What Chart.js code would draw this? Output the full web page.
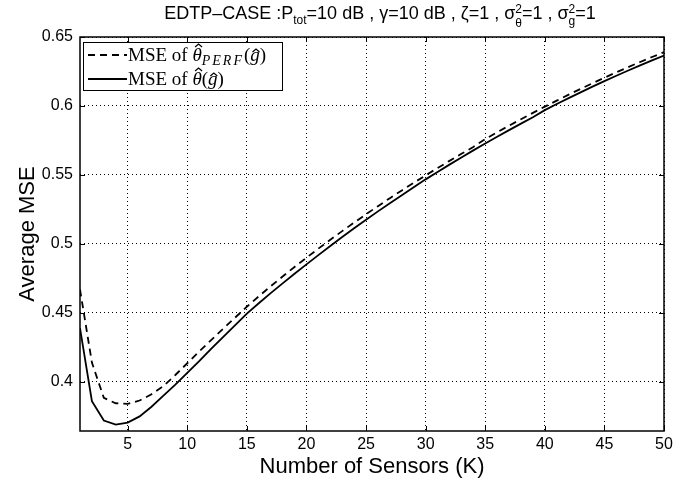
<!DOCTYPE html>
<html>
<head>
<meta charset="utf-8">
<script src="https://cdn.jsdelivr.net/npm/chart.js@4.4.1/dist/chart.umd.min.js"></script>
<style>
  html, body { margin: 0; padding: 0; background: #fff; }
</style>
</head>
<body>
<canvas id="myChart" width="688" height="486"></canvas>
<script>
"use strict";

// number of sensors K
const sensors = [1, 2, 3, 4, 5, 6, 7, 8, 9, 10,
    11, 12, 13, 14, 15, 16, 17, 18, 19, 20,
    21, 22, 23, 24, 25, 26, 27, 28, 29, 30,
    31, 32, 33, 34, 35, 36, 37, 38, 39, 40,
    41, 42, 43, 44, 45, 46, 47, 48, 49, 50];

// MSE of theta_PERF(g) (dashed)
const msePerf = [0.467, 0.414, 0.3884, 0.3845, 0.384, 0.3865, 0.391, 0.397, 0.405, 0.4135,
    0.422, 0.4303, 0.4385, 0.4465, 0.4545, 0.462, 0.4693, 0.4764, 0.4833, 0.49,
    0.4966, 0.503, 0.5093, 0.5155, 0.5215, 0.5274, 0.5332, 0.5388, 0.5443, 0.5497,
    0.555, 0.5602, 0.5653, 0.5703, 0.576, 0.581, 0.5857, 0.5904, 0.595, 0.5995,
    0.6039, 0.6082, 0.6124, 0.6165, 0.6205, 0.6244, 0.6282, 0.6319, 0.6355, 0.639];

// MSE of theta(g) (solid)
const mseEst = [0.439, 0.386, 0.372, 0.369, 0.3705, 0.375, 0.382, 0.39, 0.398, 0.4065,
    0.415, 0.424, 0.4325, 0.441, 0.4495, 0.457, 0.4643, 0.4714, 0.4784, 0.4852,
    0.4919, 0.4985, 0.505, 0.5113, 0.5175, 0.5236, 0.5295, 0.5353, 0.541, 0.5468,
    0.5522, 0.5575, 0.5627, 0.5678, 0.5728, 0.5777, 0.5825, 0.5872, 0.5918, 0.597,
    0.6014, 0.6057, 0.6099, 0.614, 0.618, 0.6219, 0.6257, 0.6294, 0.633, 0.6365];

const xTicks = [5, 10, 15, 20, 25, 30, 35, 40, 45, 50];
const yTicks = [0.4, 0.45, 0.5, 0.55, 0.6, 0.65];

const SANS = "'Liberation Sans', Arial, sans-serif";
const SERIF = "'Liberation Serif', 'Times New Roman', serif";

// draws a run of text pieces, some of them sub/superscripts or with a hat
function drawRich(ctx, parts, x, y) {
    let cx = x;
    for (const p of parts) {
        ctx.font = p.font;
        ctx.letterSpacing = p.spacing || "0px";
        if (p.stack) {
            const w1 = ctx.measureText(p.up).width;
            const w2 = ctx.measureText(p.down).width;
            ctx.fillText(p.up, cx, y + p.upDy);
            ctx.fillText(p.down, cx, y + p.downDy);
            cx += Math.max(w1, w2);
        } else {
            const w = ctx.measureText(p.t).width;
            ctx.fillText(p.t, cx, y + (p.dy || 0));
            if (p.hat) {
                // little circumflex drawn as a path
                const hx = cx + w / 2 + p.hat.dx;
                const hy = y - p.hat.h;
                ctx.save();
                ctx.lineWidth = 1.2;
                ctx.setLineDash([]);
                ctx.beginPath();
                ctx.moveTo(hx - 3.5, hy + 3);
                ctx.lineTo(hx, hy);
                ctx.lineTo(hx + 3.5, hy + 3);
                ctx.stroke();
                ctx.restore();
            }
            cx += w;
        }
        ctx.letterSpacing = "0px";
    }
    return cx - x;
}

function richWidth(ctx, parts) {
    let w = 0;
    for (const p of parts) {
        ctx.font = p.font;
        ctx.letterSpacing = p.spacing || "0px";
        if (p.stack) w += Math.max(ctx.measureText(p.up).width, ctx.measureText(p.down).width);
        else w += ctx.measureText(p.t).width;
        ctx.letterSpacing = "0px";
    }
    return w;
}

const tFont = "18px " + SANS;
const sFont = "12px " + SANS;
const titleParts = [
    { t: "EDTP\u2013CASE :P", font: tFont },
    { t: "tot", font: sFont, dy: 5 },
    { t: "=10 dB , \u03b3=10 dB , \u03b6=1 , \u03c3", font: tFont },
    { stack: true, up: "2", down: "\u03b8", font: sFont, upDy: -6, downDy: 8 },
    { t: "=1 , \u03c3", font: tFont },
    { stack: true, up: "2", down: "g", font: sFont, upDy: -6, downDy: 6 },
    { t: "=1", font: tFont }
];

const lFont = "19px " + SERIF;
const lItal = "italic 19px " + SERIF;
const lSub = "italic 14px " + SERIF;
const legendRows = [
    { dash: [7, 5], parts: [
        { t: "MSE of ", font: lFont },
        { t: "\u03b8", font: lItal, hat: { dx: 1.5, h: 17 } },
        { t: "PERF", font: lSub, dy: 4, spacing: "2px" },
        { t: "(", font: lFont },
        { t: "g", font: lItal, hat: { dx: 1, h: 12 } },
        { t: ")", font: lFont }
    ] },
    { dash: [], parts: [
        { t: "MSE of ", font: lFont },
        { t: "\u03b8", font: lItal, hat: { dx: 1.5, h: 17 } },
        { t: "(", font: lFont },
        { t: "g", font: lItal, hat: { dx: 1, h: 12 } },
        { t: ")", font: lFont }
    ] }
];

const decorations = {
    id: "decorations",
    afterDraw(chart) {
        const ctx = chart.ctx;
        const a = chart.chartArea;
        const xs = chart.scales.x;
        const ys = chart.scales.y;
        ctx.save();
        ctx.fillStyle = "#000";
        ctx.strokeStyle = "#000";

        // axes box
        ctx.lineWidth = 1.5;
        ctx.setLineDash([]);
        ctx.strokeRect(a.left, a.top, a.right - a.left, a.bottom - a.top);

        // inward ticks, all four sides
        ctx.lineWidth = 1;
        ctx.beginPath();
        for (const v of xTicks) {
            const px = Math.round(xs.getPixelForValue(v)) + 0.5;
            ctx.moveTo(px, a.bottom); ctx.lineTo(px, a.bottom - 5);
            ctx.moveTo(px, a.top); ctx.lineTo(px, a.top + 5);
        }
        for (const v of yTicks) {
            const py = Math.round(ys.getPixelForValue(v)) + 0.5;
            ctx.moveTo(a.left, py); ctx.lineTo(a.left + 5, py);
            ctx.moveTo(a.right, py); ctx.lineTo(a.right - 5, py);
        }
        ctx.stroke();

        // title
        ctx.textBaseline = "alphabetic";
        ctx.textAlign = "left";
        const tw = richWidth(ctx, titleParts);
        drawRich(ctx, titleParts, 380 - tw / 2, 19);

        // axis titles
        ctx.font = "22px " + SANS;
        ctx.textAlign = "center";
        ctx.textBaseline = "alphabetic";
        ctx.fillText("Number of Sensors (K)", (a.left + a.right) / 2, 473);
        ctx.save();
        ctx.translate(34, 234);
        ctx.rotate(-Math.PI / 2);
        ctx.fillText("Average MSE", 0, 0);
        ctx.restore();

        // legend
        ctx.fillStyle = "#fff";
        ctx.fillRect(83.5, 42.5, 199, 48);
        ctx.lineWidth = 1;
        ctx.strokeRect(83.5, 42.5, 199, 48);
        ctx.fillStyle = "#000";
        ctx.textAlign = "left";
        ctx.textBaseline = "alphabetic";
        const rowY = [55, 79];
        legendRows.forEach((row, i) => {
            ctx.lineWidth = 1.8;
            ctx.setLineDash(row.dash);
            ctx.beginPath();
            ctx.moveTo(88, rowY[i]);
            ctx.lineTo(127, rowY[i]);
            ctx.stroke();
            ctx.setLineDash([]);
            drawRich(ctx, row.parts, 128, rowY[i] + 6);
        });
        ctx.restore();
    }
};

const ctx = document.getElementById("myChart");

const myChart = new Chart(ctx, {
    type: "line",
    data: {
        datasets: [
            {
                label: "MSE of theta_PERF(g)",
                data: sensors.map((k, i) => ({ x: k, y: msePerf[i] })),
                borderColor: "#000",
                borderWidth: 1.8,
                borderDash: [7, 5],
                pointRadius: 0,
                fill: false,
                tension: 0
            },
            {
                label: "MSE of theta(g)",
                data: sensors.map((k, i) => ({ x: k, y: mseEst[i] })),
                borderColor: "#000",
                borderWidth: 1.8,
                pointRadius: 0,
                fill: false,
                tension: 0
            }
        ]
    },
    options: {
        responsive: false,
        animation: false,
        layout: { padding: { left: 0, right: 24, top: 37, bottom: 0 } },
        plugins: {
            legend: { display: false },
            title: { display: false },
            tooltip: { enabled: false }
        },
        scales: {
            x: {
                type: "linear",
                min: 1,
                max: 50,
                afterBuildTicks: (scale) => { scale.ticks = xTicks.map((v) => ({ value: v })); },
                afterFit: (scale) => { scale.height = 55; },
                ticks: {
                    color: "#000",
                    font: { family: SANS, size: 16 },
                    padding: 4,
                    maxRotation: 0
                },
                grid: { color: "#000", lineWidth: 1, drawTicks: false },
                border: { display: false, dash: [1, 3] }
            },
            y: {
                min: 0.3644,
                max: 0.65,
                afterBuildTicks: (scale) => { scale.ticks = yTicks.map((v) => ({ value: v })); },
                afterFit: (scale) => { scale.width = 80; },
                ticks: {
                    color: "#000",
                    font: { family: SANS, size: 16 },
                    padding: 7,
                    callback: (v) => String(+v.toFixed(2))
                },
                grid: { color: "#000", lineWidth: 1, drawTicks: false },
                border: { display: false, dash: [1, 3] }
            }
        }
    },
    plugins: [decorations]
});
</script>
</body>
</html>
